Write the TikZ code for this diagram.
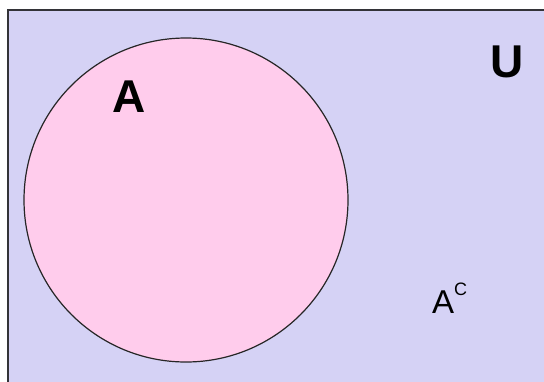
\documentclass[tikz,border=0pt]{standalone}
\usepackage{fontspec}
\setmainfont{Liberation Sans}
\definecolor{univFill}{HTML}{D5D2F5}
\definecolor{setFill}{HTML}{FFCCEC}
\definecolor{frameLine}{HTML}{333338}

\begin{document}
\begin{tikzpicture}[x=1pt,y=-1pt,
  universe/.style={draw=frameLine,fill=univFill,line width=2pt},
  setcircle/.style={circle,draw=black!85,fill=setFill,line width=1.2pt,minimum size=324pt,inner sep=0pt},
  biglbl/.style={font=\fontsize{46}{46}\bfseries\selectfont,inner sep=0pt,anchor=base west},
  lbl/.style={font=\fontsize{33}{33}\selectfont,inner sep=0pt,anchor=base west}
]
  \useasboundingbox (0,0) rectangle (544,381);
  % --- universe box, right and bottom edges run off the page ---
  \draw[universe] (8,10) rectangle (548,386);

  % --- set A ---
  \node[setcircle] (setA) at (186,200) {};
  \node[biglbl] (labA) at (112,112) {A};

  % --- labels ---
  \node[biglbl] (labU) at (490,77) {U};
  \node[lbl] (labAc) at (432,313) {A\raisebox{18pt}{\fontsize{18}{18}\selectfont C}};
\end{tikzpicture}
\end{document}
